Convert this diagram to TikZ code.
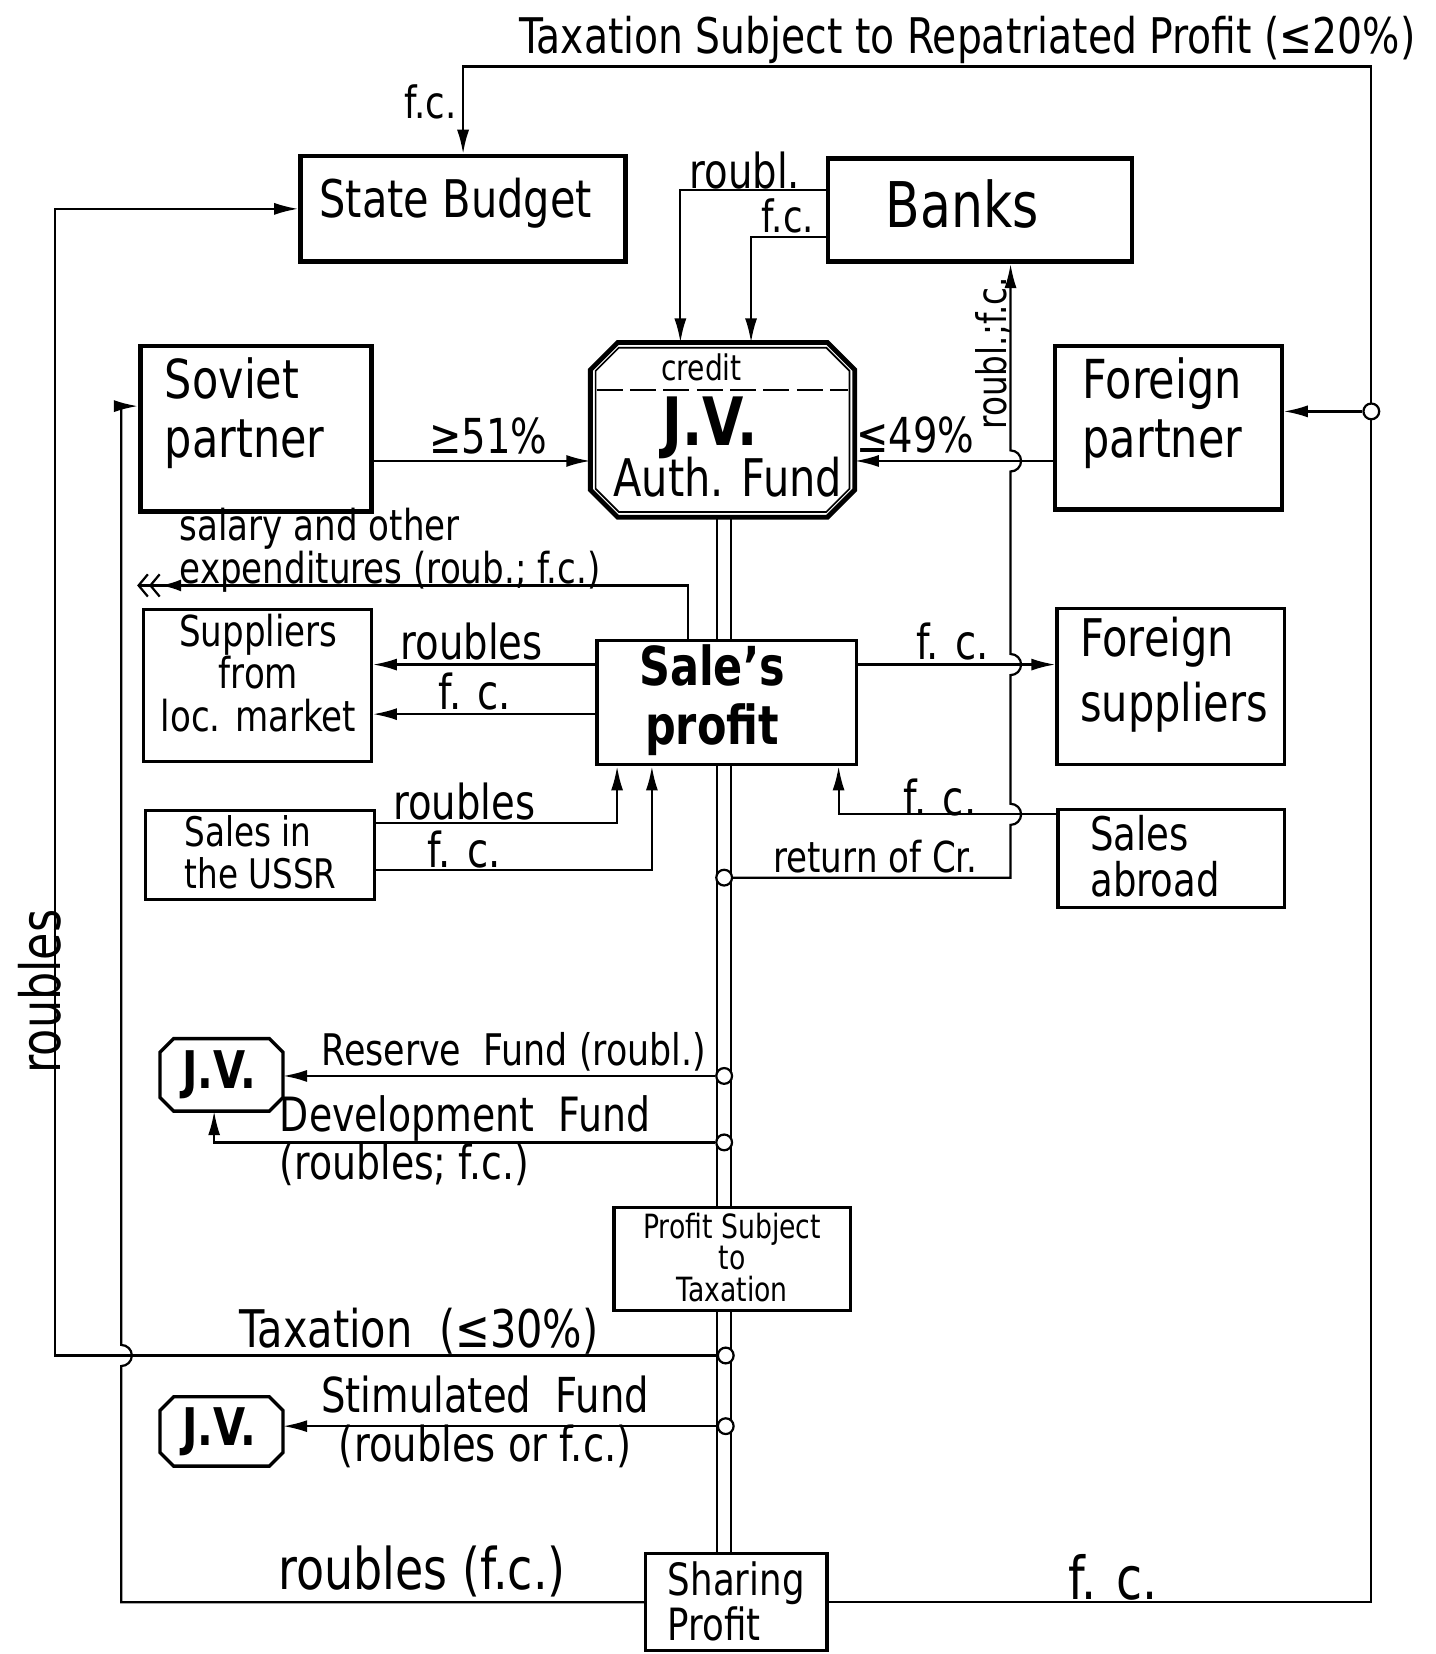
\documentclass[tikz,border=0pt]{standalone}
\usepackage{fontspec}
\setmainfont{DejaVu Sans}[FakeStretch=0.8]
\usetikzlibrary{arrows.meta,calc}
\newcommand{\fsz}[2]{\fontsize{#1}{#2}\selectfont}
\newcommand{\octo}[3]{%
  \draw[#3] ($(#1.north west)+(#2,0)$) -- ($(#1.north east)+(-#2,0)$) -- ($(#1.north east)+(0,-#2)$)
   -- ($(#1.south east)+(0,#2)$) -- ($(#1.south east)+(-#2,0)$) -- ($(#1.south west)+(#2,0)$)
   -- ($(#1.south west)+(0,#2)$) -- ($(#1.north west)+(0,-#2)$) -- cycle;}
\begin{document}
\begin{tikzpicture}[x=0.02cm,y=0.02cm,
  conn/.style={line width=1.2pt},
  arr/.style={conn,-{Latex[length=13pt,width=6.5pt]}},
  box/.style={draw,line width=1.7pt,rectangle,fill=white,inner sep=0pt},
  bbox/.style={box,line width=2.5pt},
  hole/.style={rectangle,inner sep=0pt},
  lbl/.style={inner sep=0pt},
  dot/.style={circle,draw,line width=1.2pt,fill=white,minimum size=8.5pt,inner sep=0pt}]
\useasboundingbox (0,0) rectangle (1361,-1568);
\fill[white] (0,0) rectangle (1361,-1568);
% ---------- boxes ----------
\node[bbox,minimum width=308*0.02cm,minimum height=100*0.02cm] (budget) at (439,-198) {};
\node[bbox,minimum width=288*0.02cm,minimum height=98*0.02cm] (banks) at (929,-199) {};
\node[bbox,minimum width=219*0.02cm,minimum height=157*0.02cm] (soviet) at (242.5,-406.5) {};
\node[box,line width=2.2pt,minimum width=215*0.02cm,minimum height=155*0.02cm] (fpartner) at (1107.5,-405.5) {};
\node[hole,minimum width=250*0.02cm,minimum height=165*0.02cm] (jv) at (685,-407.5) {};
\node[hole,minimum width=240*0.02cm,minimum height=155*0.02cm] (jvin) at (685,-407.5) {};
\octo{jv}{26}{line width=2.6pt,fill=white}
\octo{jvin}{22}{line width=0.9pt}
\node[box,minimum width=246*0.02cm,minimum height=118*0.02cm] (sp) at (689,-666) {};
\node[box,minimum width=216*0.02cm,minimum height=144*0.02cm] (sup) at (244,-650) {};
\node[box,minimum width=216*0.02cm,minimum height=148*0.02cm] (fsup) at (1110,-651) {};
\node[box,minimum width=217*0.02cm,minimum height=85*0.02cm] (ussr) at (246.5,-810.5) {};
\node[box,minimum width=215*0.02cm,minimum height=93*0.02cm] (abroad) at (1110.5,-813.5) {};
\node[hole,minimum width=116*0.02cm,minimum height=68*0.02cm] (jv2) at (210,-1019) {};
\octo{jv2}{13}{line width=1.8pt,fill=white}
\node[hole,minimum width=116*0.02cm,minimum height=65*0.02cm] (jv3) at (210,-1357) {};
\octo{jv3}{13}{line width=1.8pt,fill=white}
\node[box,fill=none,minimum width=224*0.02cm,minimum height=97*0.02cm] (pst) at (694,-1193.5) {};
\node[box,minimum width=172*0.02cm,minimum height=92*0.02cm] (sharing) at (698,-1519) {};
% ---------- box texts ----------
\node[lbl,font=\fsz{28}{30}] (tbudget) at (432,-193) {State Budget};
\node[lbl,font=\fsz{34}{36}] (tbanks) at (912,-193) {Banks};
\node[lbl,align=left,font=\fsz{29}{32}] (tsoviet) at (232,-392) {Soviet\\partner};
\node[lbl,align=left,font=\fsz{29}{32}] (tfpartner) at (1102,-392) {Foreign\\partner};
\node[lbl,font=\fsz{19}{21}] (tcredit) at (665,-348) {credit};
\coordinate (dashy) at (0,-370);
\draw[line width=1.2pt,dash pattern=on 14pt off 4pt] ($(jv.west |- dashy)+(6,0)$) -- ($(jv.east |- dashy)+(-6,0)$);
\node[lbl,font=\fsz{36}{38}\bfseries] (tjv) at (673,-406) {J.V.};
\node[lbl,font=\fsz{28}{30}] (tauth) at (690,-452) {Auth. Fund};
\node[lbl,align=center,font=\fsz{29}{32}\bfseries] (tsp) at (675,-664) {Sale's\\profit};
\node[lbl,align=center,font=\fsz{23}{23}] (tsup) at (245,-638) {Suppliers\\from\\loc. market};
\node[lbl,align=left,font=\fsz{28}{35}] (tfsup) at (1113,-640) {Foreign\\suppliers};
\node[lbl,align=left,font=\fsz{22}{23}] (tussr) at (247,-808) {Sales in\\the USSR};
\node[lbl,align=left,font=\fsz{25}{25}] (tabroad) at (1095,-812) {Sales\\abroad};
\node[lbl,font=\fsz{28}{30}\bfseries] (tjv2) at (208,-1019) {J.V.};
\node[lbl,font=\fsz{28}{30}\bfseries] (tjv3) at (208,-1357) {J.V.};
\node[lbl,align=center,font=\fsz{18}{17}] (tpst) at (694,-1192) {Profit Subject\\to\\Taxation};
\node[lbl,align=left,font=\fsz{24}{24}] (tsharing) at (698,-1518) {Sharing\\Profit};
% ---------- double profit line ----------
\coordinate (dl1) at (680,0);
\coordinate (dl2) at (693,0);
\foreach \d in {dl1,dl2}{
  \draw[line width=1pt] (jv.south -| \d) -- (sp.north -| \d);
  \draw[line width=1pt] (sp.south -| \d) -- (pst.north -| \d);
  \draw[line width=1pt] (pst.south -| \d) -- (sharing.north -| \d);
}
\node[dot] (retdot) at (686.5,-832) {};
\node[dot] (resdot) at (686.5,-1020) {};
\node[dot] (devdot) at (686.5,-1083) {};
\node[dot] (taxdot) at (688,-1285) {};
\node[dot] (stimdot) at (688,-1352) {};
% ---------- connectors ----------
\coordinate (tr) at (1300,-63);
\coordinate (fcj) at (1300,-390);
\draw[arr] (sharing.east) -| (tr) -| (budget.north);
\node[dot] (fcdot) at (fcj) {};
\draw[arr] (fcdot) -- (fpartner.east |- fcj);
% left loop to Soviet partner
\coordinate (bumpL) at (115,-1295);
\coordinate (sovin) at (115,-385);
\draw[arr] (sharing.west) -| (bumpL) arc[start angle=-90,end angle=90,radius=10] -- (sovin) -- (soviet.west |- sovin);
% taxation to State Budget
\coordinate (taxl) at (52,-1285);
\draw[arr] (taxdot) -- (taxl) |- (budget.west);
% banks credit
\coordinate (rb) at (645,-180);
\coordinate (fb) at (712,-225);
\draw[arr] (banks.west |- rb) -| (jv.north -| rb);
\draw[arr] (banks.west |- fb) -| (jv.north -| fb);
% return of credit
\coordinate (rc) at (958,-832);
\draw[arr] (retdot) -- (rc) -- (958,-782) arc[start angle=-90,end angle=90,radius=10]
  -- (958,-640) arc[start angle=-90,end angle=90,radius=10]
  -- (958,-447) arc[start angle=-90,end angle=90,radius=10] -- (banks.south -| rc);
% partners to JV
\coordinate (y437) at (0,-437);
\draw[arr] (soviet.east |- y437) -- (jv.west |- y437);
\draw[arr] (fpartner.west |- y437) -- (jv.east |- y437);
% salary
\coordinate (sal) at (652,-555);
\coordinate (salend) at (130,-555);
\draw[conn,-{Latex[length=11pt,width=6.5pt] Straight Barb[length=5pt,width=12pt,line width=1.2pt] Straight Barb[length=5pt,width=12pt,line width=1.2pt]}] (sp.north -| sal) |- (salend);
% suppliers
\coordinate (y630) at (0,-630);
\coordinate (y677) at (0,-677);
\draw[arr] (sp.west |- y630) -- (sup.east |- y630);
\draw[arr] (sp.west |- y677) -- (sup.east |- y677);
\draw[arr] (sp.east |- y630) -- (fsup.west |- y630);
% sales in USSR
\coordinate (u1) at (585,-780);
\coordinate (u2) at (618,-825);
\draw[arr] (ussr.east |- u1) -| (sp.south -| u1);
\draw[arr] (ussr.east |- u2) -| (sp.south -| u2);
% sales abroad
\coordinate (a1) at (795,-772);
\draw[arr] (abroad.west |- a1) -| (sp.south -| a1);
% funds
\coordinate (dv) at (203,0);
\draw[arr] (resdot) -- (jv2.east |- resdot);
\draw[arr] (devdot) -| (jv2.south -| dv);
\draw[arr] (stimdot) -- (jv3.east |- stimdot);
% ---------- labels ----------
\node[lbl,font=\fsz{26.5}{28}] (ltitle) at (917,-38) {Taxation Subject to Repatriated Profit (≤20\%)};
\node[lbl,font=\fsz{24}{26}] (lfc1) at (408,-97) {f.c.};
\node[lbl,font=\fsz{26}{28}] (lroubl) at (706,-162) {roubl.};
\node[lbl,font=\fsz{24}{26}] (lfc2) at (747,-205) {f.c.};
\node[lbl,font=\fsz{22}{24},rotate=90] (lrf) at (942,-335) {roubl.;f.c.};
\node[lbl,font=\fsz{26}{28}] (l51) at (463,-413) {≥51\%};
\node[lbl,font=\fsz{26}{28}] (l49) at (868,-412) {≤49\%};
\node[lbl,align=left,anchor=west,font=\fsz{23}{21.5}] (lsal) at (170,-522) {salary and other\\expenditures (roub.; f.c.)};
\node[lbl,font=\fsz{26}{28}] (lr1) at (447,-608) {roubles};
\node[lbl,font=\fsz{26}{28}] (lf1) at (450,-656) {f. c.};
\node[lbl,font=\fsz{26}{28}] (lf2) at (903,-608) {f. c.};
\node[lbl,font=\fsz{26}{28}] (lr2) at (440,-760) {roubles};
\node[lbl,font=\fsz{26}{28}] (lf3) at (440,-805) {f. c.};
\node[lbl,font=\fsz{26}{28}] (lf4) at (891,-756) {f. c.};
\node[lbl,font=\fsz{23}{25}] (lret) at (830,-812) {return of Cr.};
\node[lbl,font=\fsz{30}{32},rotate=90] (lrv) at (38,-940) {roubles};
\node[lbl,font=\fsz{23.5}{25}] (lres) at (487,-997) {Reserve\ \ Fund (roubl.)};
\node[lbl,align=left,anchor=west,font=\fsz{25.5}{26}] (ldev) at (265,-1081) {Development\ \ Fund\\(roubles; f.c.)};
\node[lbl,font=\fsz{28}{30}] (ltax) at (397,-1262) {Taxation\ \ (≤30\%)};
\node[lbl,align=center,font=\fsz{26}{26}] (lstim) at (460,-1348) {Stimulated\ \ Fund\\(roubles or f.c.)};
\node[lbl,font=\fsz{31}{33}] (lrfc) at (400,-1490) {roubles (f.c.)};
\node[lbl,font=\fsz{32}{34}] (lfcb) at (1055,-1495) {f. c.};
\end{tikzpicture}
\end{document}
